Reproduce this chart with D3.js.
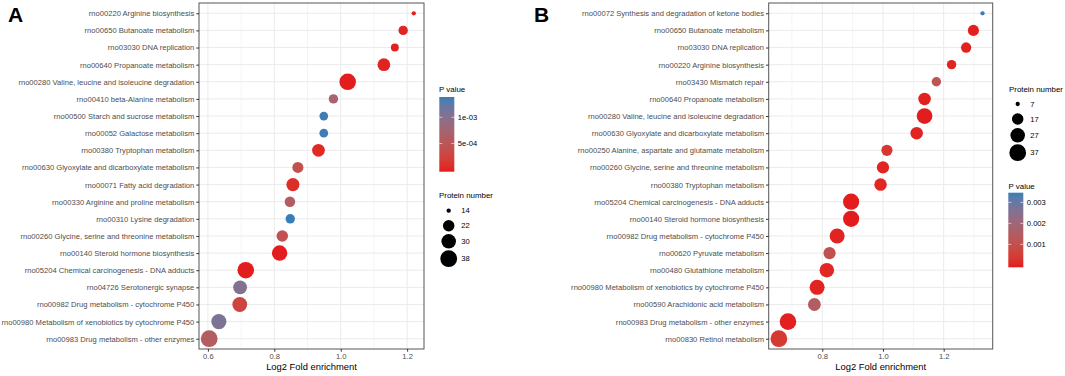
<!DOCTYPE html>
<html>
<head>
<meta charset="utf-8">
<script src="https://d3js.org/d3.v7.min.js"></script>
<style>
  body { margin: 0; background: #fff; }
  svg { font-family: "Liberation Sans", Arial, sans-serif; display: block; }
</style>
</head>
<body>
<div id="chart"><svg width="1065" height="376"></svg></div>
<script>
// ---- panel A data (top to bottom) ----
var termsA = [
  "rno00220 Arginine biosynthesis",
  "rno00650 Butanoate metabolism",
  "rno03030 DNA replication",
  "rno00640 Propanoate metabolism",
  "rno00280 Valine, leucine and isoleucine degradation",
  "rno00410 beta-Alanine metabolism",
  "rno00500 Starch and sucrose metabolism",
  "rno00052 Galactose metabolism",
  "rno00380 Tryptophan metabolism",
  "rno00630 Glyoxylate and dicarboxylate metabolism",
  "rno00071 Fatty acid degradation",
  "rno00330 Arginine and proline metabolism",
  "rno00310 Lysine degradation",
  "rno00260 Glycine, serine and threonine metabolism",
  "rno00140 Steroid hormone biosynthesis",
  "rno05204 Chemical carcinogenesis - DNA adducts",
  "rno04726 Serotonergic synapse",
  "rno00982 Drug metabolism - cytochrome P450",
  "rno00980 Metabolism of xenobiotics by cytochrome P450",
  "rno00983 Drug metabolism - other enzymes"
];
var foldA = [1.22, 1.188, 1.163, 1.13, 1.021, 0.978, 0.949, 0.949, 0.933, 0.871,
             0.856, 0.847, 0.848, 0.824, 0.816, 0.714, 0.697, 0.696, 0.633, 0.604];
var countA = [14, 18, 16, 25, 37, 18, 17, 17, 25, 21, 26, 20, 18, 22, 33, 37, 28, 31, 32, 38];
var pA = [0.00002, 0.00005, 0.00003, 0.00004, 0.00001, 0.00072, 0.00133, 0.00133, 0.00008, 0.00042,
          0.00010, 0.00060, 0.00135, 0.00045, 0.00001, 0.00001, 0.00102, 0.00030, 0.00105, 0.00060];
var xTicksA = [0.6, 0.8, 1.0, 1.2];
var pBreaksA = [0.0005, 0.001];
var pLabelsA = ["5e-04", "1e-03"];
var sizeBreaksA = [14, 22, 30, 38];

// ---- panel B data (top to bottom) ----
var termsB = [
  "rno00072 Synthesis and degradation of ketone bodies",
  "rno00650 Butanoate metabolism",
  "rno03030 DNA replication",
  "rno00220 Arginine biosynthesis",
  "rno03430 Mismatch repair",
  "rno00640 Propanoate metabolism",
  "rno00280 Valine, leucine and isoleucine degradation",
  "rno00630 Glyoxylate and dicarboxylate metabolism",
  "rno00250 Alanine, aspartate and glutamate metabolism",
  "rno00260 Glycine, serine and threonine metabolism",
  "rno00380 Tryptophan metabolism",
  "rno05204 Chemical carcinogenesis - DNA adducts",
  "rno00140 Steroid hormone biosynthesis",
  "rno00982 Drug metabolism - cytochrome P450",
  "rno00620 Pyruvate metabolism",
  "rno00480 Glutathione metabolism",
  "rno00980 Metabolism of xenobiotics by cytochrome P450",
  "rno00590 Arachidonic acid metabolism",
  "rno00983 Drug metabolism - other enzymes",
  "rno00830 Retinol metabolism"
];
var foldB = [1.328, 1.298, 1.274, 1.226, 1.176, 1.137, 1.137, 1.111, 1.013, 1.0,
             0.992, 0.895, 0.895, 0.849, 0.824, 0.815, 0.783, 0.774, 0.687, 0.657];
var countB = [7, 16, 14, 12, 12, 20, 32, 20, 16, 19, 20, 34, 34, 29, 19, 27, 29, 21, 36, 37];
var pB = [0.00337, 0.00005, 0.00008, 0.00010, 0.00120, 0.00006, 0.00003, 0.00010, 0.00040, 0.00012,
          0.00015, 0.00002, 0.00001, 0.00010, 0.00110, 0.00015, 0.00010, 0.00150, 0.00005, 0.00045];
var xTicksB = [0.8, 1.0, 1.2];
var pBreaksB = [0.001, 0.002, 0.003];
var pLabelsB = ["0.001", "0.002", "0.003"];
var sizeBreaksB = [7, 17, 27, 37];

var LOW = "#E41A1C", HIGH = "#377EB8";
var svg = d3.select("#chart svg");
var defs = svg.append("defs");

function panel(o) {
  var g = svg.append("g");
  var xr = d3.extent(o.fold), pad = (xr[1] - xr[0]) * 0.05;
  var x = d3.scaleLinear().domain([xr[0] - pad, xr[1] + pad]).range([o.left, o.right]);
  var y = d3.scalePoint().domain(o.terms).range([o.top, o.bottom]).padding(0.6);
  var col = d3.scaleLinear().domain([0, d3.max(o.p)]).range([LOW, HIGH]).interpolate(d3.interpolateLab);
  var cr = d3.extent(o.count);
  var norm = d3.scaleLinear().domain(cr).range([0, 1]);
  var diam = d3.scaleLinear().domain([0, 1]).range([4.3, 16.8]);
  function rad(v) { return diam(Math.sqrt(norm(v))) / 2; }

  // grid
  var minor = d3.range(Math.ceil(x.domain()[0] * 10), Math.floor(x.domain()[1] * 10) + 1)
    .map(function(d) { return d / 10; })
    .filter(function(d) { return Math.round(d * 10) % 2 === 1; });
  g.selectAll(".minor").data(minor).enter().append("line")
    .attr("x1", function(d) { return x(d); }).attr("x2", function(d) { return x(d); })
    .attr("y1", o.top).attr("y2", o.bottom)
    .attr("stroke", "#ededed").attr("stroke-width", 0.6);
  g.selectAll(".vmaj").data(o.xTicks).enter().append("line")
    .attr("x1", function(d) { return x(d); }).attr("x2", function(d) { return x(d); })
    .attr("y1", o.top).attr("y2", o.bottom)
    .attr("stroke", "#ebebeb").attr("stroke-width", 1);
  g.selectAll(".hmaj").data(o.terms).enter().append("line")
    .attr("x1", o.left).attr("x2", o.right)
    .attr("y1", function(d) { return y(d); }).attr("y2", function(d) { return y(d); })
    .attr("stroke", "#ebebeb").attr("stroke-width", 1);

  // points
  g.selectAll(".pt").data(o.terms).enter().append("circle")
    .attr("cx", function(d, i) { return x(o.fold[i]); })
    .attr("cy", function(d) { return y(d); })
    .attr("r", function(d, i) { return rad(o.count[i]); })
    .attr("fill", function(d, i) { return col(o.p[i]); });

  // border
  g.append("rect").attr("x", o.left).attr("y", o.top)
    .attr("width", o.right - o.left).attr("height", o.bottom - o.top)
    .attr("fill", "none").attr("stroke", "#555").attr("stroke-width", 1);

  // axes
  var ax = g.append("g").attr("transform", "translate(0," + o.bottom + ")")
    .call(d3.axisBottom(x).tickValues(o.xTicks).tickFormat(d3.format(".1f")).tickSize(2.7).tickPadding(2));
  var ay = g.append("g").attr("transform", "translate(" + o.left + ",0)")
    .call(d3.axisLeft(y).tickSize(2.7).tickPadding(2));
  [ax, ay].forEach(function(a) {
    a.select(".domain").remove();
    a.selectAll("line").attr("stroke", "#333");
    a.selectAll("text").attr("fill", "#4d4d4d").style("font-size", "7.6px");
  });

  g.append("text").attr("x", (o.left + o.right) / 2).attr("y", 370)
    .attr("text-anchor", "middle").style("font-size", "9.4px").text("Log2 Fold enrichment");
  g.append("text").attr("x", o.tagX).attr("y", 22.3)
    .style("font-size", "21px").style("font-weight", "bold").text(o.tag);

  // colour legend
  var c = o.cbar;
  var gid = "grad" + o.tag;
  var grad = defs.append("linearGradient").attr("id", gid)
    .attr("x1", 0).attr("y1", 1).attr("x2", 0).attr("y2", 0);
  d3.range(0, 21).forEach(function(k) {
    grad.append("stop").attr("offset", k / 20)
      .attr("stop-color", col(col.domain()[1] * k / 20));
  });
  g.append("text").attr("x", c.tx).attr("y", c.ty).style("font-size", "7.9px").text("P value");
  g.append("rect").attr("x", c.x).attr("y", c.y0).attr("width", 15).attr("height", c.y1 - c.y0)
    .attr("fill", "url(#" + gid + ")");
  var cy = d3.scaleLinear().domain(col.domain()).range([c.y1 - 1.9, c.y0 + 1.9]);
  o.pBreaks.forEach(function(b, i) {
    g.append("line").attr("x1", c.x).attr("x2", c.x + 3).attr("y1", cy(b)).attr("y2", cy(b))
      .attr("stroke", "#fff").attr("stroke-width", 0.6);
    g.append("line").attr("x1", c.x + 12).attr("x2", c.x + 15).attr("y1", cy(b)).attr("y2", cy(b))
      .attr("stroke", "#fff").attr("stroke-width", 0.6);
    g.append("text").attr("x", c.x + 18.5).attr("y", cy(b) + 2.7)
      .style("font-size", "7.6px").text(o.pLabels[i]);
  });

  // size legend
  var s = o.sleg;
  g.append("text").attr("x", s.tx).attr("y", s.ty).style("font-size", "7.9px").text("Protein number");
  o.sizeBreaks.forEach(function(b, i) {
    g.append("circle").attr("cx", s.cx).attr("cy", s.ys[i]).attr("r", rad(b)).attr("fill", "#000");
    g.append("text").attr("x", s.cx + 12.5).attr("y", s.ys[i] + 2.7)
      .style("font-size", "7.6px").text(b);
  });
}

panel({
  tag: "A", tagX: 8, terms: termsA, fold: foldA, count: countA, p: pA,
  xTicks: xTicksA, pBreaks: pBreaksA, pLabels: pLabelsA, sizeBreaks: sizeBreaksA,
  left: 199, right: 424, top: 3, bottom: 349,
  cbar: { tx: 439, ty: 91.5, x: 439.3, y0: 97, y1: 171.7 },
  sleg: { tx: 439, ty: 198, cx: 448.7, ys: [210.7, 225.7, 241.3, 258.7] }
});
panel({
  tag: "B", tagX: 534, terms: termsB, fold: foldB, count: countB, p: pB,
  xTicks: xTicksB, pBreaks: pBreaksB, pLabels: pLabelsB, sizeBreaks: sizeBreaksB,
  left: 768.7, right: 992.7, top: 3, bottom: 349,
  cbar: { tx: 1008.5, ty: 188.5, x: 1008.3, y0: 192.7, y1: 267.3 },
  sleg: { tx: 1009, ty: 91.5, cx: 1017.7, ys: [104, 119, 135.3, 152.7] }
});
</script>
</body>
</html>
